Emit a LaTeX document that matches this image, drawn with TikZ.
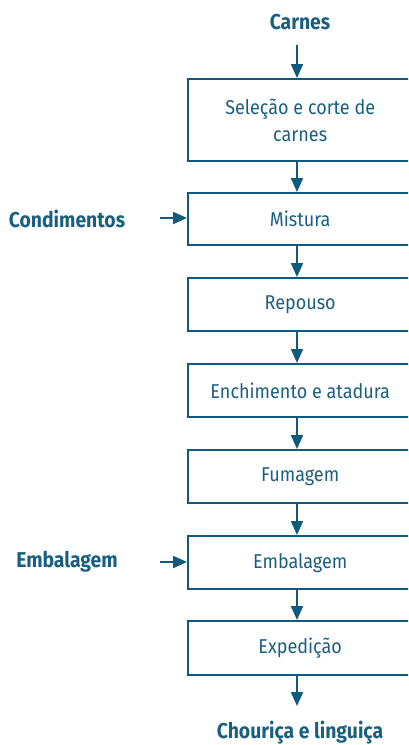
\documentclass[tikz,border=0pt]{standalone}
\usepackage{fontspec}
\setmainfont{Fira Sans}[FakeStretch=0.9]
\usetikzlibrary{arrows.meta}
\definecolor{tealblue}{HTML}{0F5A7D}
\definecolor{txtblue}{HTML}{1A5F80}
\begin{document}
\begin{tikzpicture}[x=1pt,y=-1pt,
  stepbox/.style={draw=tealblue,line width=2.4pt,rectangle,anchor=north west,minimum width=224pt,inner sep=0pt,text=txtblue,font=\fontsize{20}{27}\selectfont,align=center},
  flow/.style={draw=tealblue,line width=2pt,-{Triangle[length=14pt,width=12pt]}},
  lbl/.style={text=txtblue,font=\fontsize{21.5}{24}\selectfont\bfseries}]
\useasboundingbox (0,0) rectangle (408,745);
\begin{scope}
\clip (0,0) rectangle (408,745);
\node[stepbox,minimum height=82pt] (b1) at (187,78) {Seleção e corte de\\carnes};
\node[stepbox,minimum height=52pt] (b2) at (187,192) {Mistura};
\node[stepbox,minimum height=53pt] (b3) at (187,277) {Repouso};
\node[stepbox,minimum height=53pt] (b4) at (187,363) {Enchimento e atadura};
\node[stepbox,minimum height=53pt] (b5) at (187,449) {Fumagem};
\node[stepbox,minimum height=53pt] (b6) at (187,535) {Embalagem};
\node[stepbox,minimum height=54pt] (b7) at (187,620) {Expedição};
\end{scope}
\node[lbl] (carnes) at (300,22) {Carnes};
\node[lbl] (cond) at (67,219) {Condimentos};
\node[lbl] (emb) at (67,562) {Embalagem};
\node[lbl] (out) at (300,733) {Chouriça e linguiça};
\coordinate (t0) at (297,45);
\coordinate (t8) at (297,706);
\coordinate (c0) at (160,218);
\coordinate (e0) at (160,562);
\draw[flow] (t0) -- (t0 |- b1.north);
\draw[flow] (b1.south -| t0) -- (b2.north -| t0);
\draw[flow] (b2.south -| t0) -- (b3.north -| t0);
\draw[flow] (b3.south -| t0) -- (b4.north -| t0);
\draw[flow] (b4.south -| t0) -- (b5.north -| t0);
\draw[flow] (b5.south -| t0) -- (b6.north -| t0);
\draw[flow] (b6.south -| t0) -- (b7.north -| t0);
\draw[flow] (b7.south -| t0) -- (t8);
\draw[flow] (c0) -- (c0 -| b2.west);
\draw[flow] (e0) -- (e0 -| b6.west);
\end{tikzpicture}
\end{document}
